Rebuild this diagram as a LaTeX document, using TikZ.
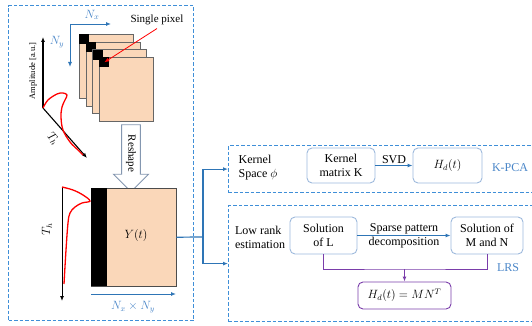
\documentclass[tikz,border=0pt]{standalone}
\usepackage{fontspec}
\setmainfont{Liberation Serif}
\usepackage{amsmath}
\usetikzlibrary{shapes.arrows, arrows.meta, positioning, calc}

\definecolor{dashblue}{HTML}{3F8FD8}
\definecolor{lineblue}{HTML}{2E75B6}
\definecolor{boxline}{HTML}{9DB9DC}
\definecolor{peach}{HTML}{FAD7B9}
\definecolor{lilac}{HTML}{7A3DAA}
\definecolor{tagblue}{HTML}{4A86C8}
\definecolor{reshapeline}{HTML}{8497B0}

\begin{document}
\begin{tikzpicture}[
  x=1pt, y=-1pt,
  >={Latex[length=5pt, width=4pt]},
  font=\fontsize{12}{14}\selectfont,
  stage/.style={rectangle, draw=dashblue, dashed, dash pattern=on 3.5pt off 2pt, line width=1.2pt, inner sep=0pt, anchor=north west},
  rbox/.style={rectangle, rounded corners=5pt, draw=boxline, line width=0.9pt, align=center, inner sep=2pt},
  frame/.style={rectangle, draw=black!60, fill=peach, anchor=north west, minimum width=54pt, minimum height=64pt, inner sep=0pt},
  pix/.style={rectangle, fill=black, anchor=north west, minimum size=10pt, inner sep=0pt},
  axis/.style={->, line width=1.1pt},
  flow/.style={->, draw=lineblue, line width=1.2pt},
  tag/.style={text=tagblue},
]
  \useasboundingbox (0,0) rectangle (532,326);
  \clip (0,0) rectangle (532,326);

  % left panel: frames and reshaped matrix
  \node[stage, minimum width=185pt, minimum height=315pt] (left) at (8,5) {};

  \foreach \i in {0,...,3} {
    \node[frame] (f\i) at (79+6.7*\i, 34+7.7*\i) {};
    \node[pix] (p\i) at (f\i.north west) {};
  }
  \node[font=\fontsize{11}{13}\selectfont] (pixtxt) at (157,20) {Single pixel};
  \draw[->, red, line width=0.8pt] (pixtxt.south) -- (p3.center);

  \coordinate (corner) at (70,24);
  \coordinate (nxend) at (111,24);
  \coordinate (nyend) at (70,67);
  \draw[->, draw=lineblue, line width=0.9pt] (corner) -- (nxend);
  \draw[->, draw=lineblue, line width=0.9pt] (corner) -- (nyend);
  \node[tag] (nx) at (92,15) {$N_x$};
  \node[tag] (ny) at (57,42) {$N_y$};

  \coordinate (orig) at (43,108);
  \coordinate (ampend) at (43,37);
  \coordinate (thend) at (87,158);
  \draw[axis] (orig) -- (ampend);
  \draw[axis] (orig) -- (thend);
  \node[rotate=90, font=\fontsize{8.5}{10}\selectfont] (amp) at (33,71) {Amplitude [a.u.]};
  \node[rotate=-49, inner sep=1pt] (thone) at (53,139) {$T_h$};
  \draw[red, line width=1.3pt] plot[smooth, tension=0.6] coordinates {(43,108) (48,100) (57,94) (63,93) (67,95) (65,100) (62,107) (61,117) (63,130) (70,142) (78,150) (83,155)};

  \node[single arrow, rotate=-90, draw=reshapeline, fill=white, line width=0.9pt,
        minimum height=67pt, inner xsep=2pt, inner ysep=4pt, single arrow head extend=8pt,
        font=\fontsize{11}{13}\selectfont] (reshape) at (131,153.5) {Reshape};

  \node[rectangle, draw=black!70, fill=peach, anchor=north west, minimum width=85pt, minimum height=98pt, inner sep=0pt] (ybox) at (91,188) {};
  \node[pix, minimum width=16pt, minimum height=98pt] (bar) at (ybox.north west) {};
  \node (ytxt) at (136,235) {$Y(t)$};

  \coordinate (thtop) at (62,187);
  \coordinate (thbot) at (62,301);
  \draw[axis, line width=0.9pt] (thtop) -- (thbot);
  \node[rotate=90] (thtwo) at (47,229) {$T_h$};
  \draw[red, line width=1.3pt] plot[smooth, tension=0.6] coordinates {(62,187) (73,190) (83,195) (90,201) (82,203) (75,207) (70,213) (68,223) (66,250) (64,284)};

  \coordinate (dimstart) at (91,294);
  \coordinate (dimend) at (176,294);
  \draw[->, draw=lineblue, line width=0.9pt] (dimstart) -- (dimend);
  \node[tag] (dim) at (133,307) {$N_x \times N_y$};

  % right panels
  \node[stage, minimum width=320pt, minimum height=47pt] (kpca) at (228,145) {};
  \node[stage, minimum width=320pt, minimum height=116pt] (lrs) at (228,205) {};

  \coordinate (split) at (203,237);
  \draw[draw=lineblue, line width=1.2pt] (ybox.east) -- (split);
  \draw[flow] (split) |- (kpca.west);
  \draw[flow] (split) |- (lrs.west);

  \node[align=left] (kspace) at (258,168) {Kernel\\Space $\phi$};
  \node[rbox, minimum width=68pt, minimum height=35pt] (kmat) at (341,165.5) {Kernel\\matrix K};
  \node[rbox, minimum width=69pt, minimum height=35pt] (hd) at (447.5,165.5) {$H_d(t)$};
  \node[tag] (kpcatxt) at (510,168) {K-PCA};
  \draw[flow, line width=0.9pt] (kmat) -- node[above, text=black, inner sep=1pt] {SVD} (hd);

  \node[align=left] (lowrank) at (260,237.5) {Low rank\\estimation};
  \node[rbox, minimum width=67pt, minimum height=37pt] (soll) at (323.5,235.5) {Solution\\of L};
  \node[rbox, minimum width=72pt, minimum height=37pt] (solmn) at (487,235.5) {Solution of\\M and N};
  \draw[flow, line width=0.9pt] (soll) -- node[above, inner sep=1pt] {Sparse pattern} node[below, inner sep=1pt] {decomposition} (solmn);
  \node[tag] (lrstxt) at (508,268) {LRS};

  \node[rbox, draw=lilac, minimum width=93pt, minimum height=27pt] (hmn) at (404.5,295.5) {$H_d(t) = MN^T$};
  \coordinate (join) at (404.5,269);
  \draw[draw=lilac, line width=1pt] (soll.south) |- (join) -| (solmn.south);
  \draw[->, draw=lilac, line width=1pt] (join) -- (hmn.north);
\end{tikzpicture}
\end{document}
